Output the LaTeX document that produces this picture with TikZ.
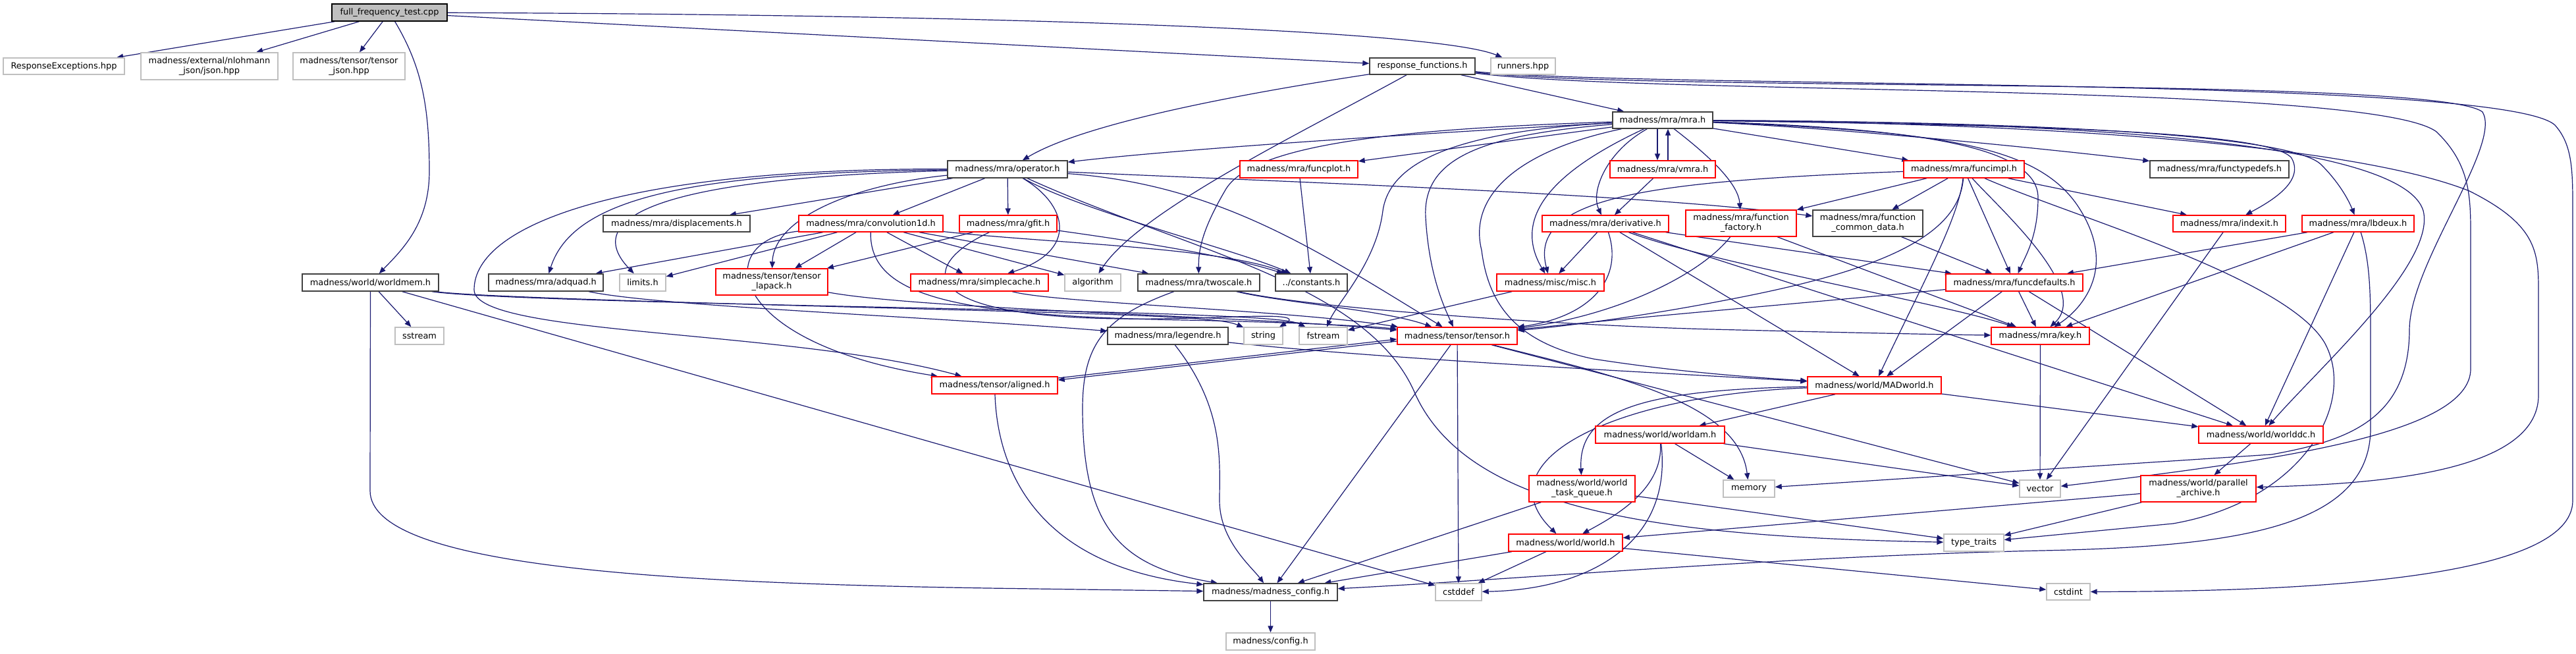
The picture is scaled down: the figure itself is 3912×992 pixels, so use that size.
\documentclass[tikz,border=0pt]{standalone}
\usepackage{fontspec}
\setmainfont{DejaVu Sans}
\usetikzlibrary{arrows.meta}
\pgfdeclarelayer{bg}
\pgfsetlayers{bg,main}
\definecolor{edgecol}{HTML}{191970}
\definecolor{greyA}{HTML}{404040}
\definecolor{greyB}{HTML}{BFBFBF}
\newcommand\nd[7]{\node[#1, minimum width={(#5-#4)*0.5pt}, minimum height={(#7-#6)*0.5pt}] (#2) at ({(#4+#5)/2},{(#6+#7)/2}) {#3};}
\begin{document}
\begin{tikzpicture}[x=0.5pt,y=-0.5pt,
 box/.style={draw, fill=white, inner sep=0pt, align=center, line width=0.7pt, text=black, font=\fontsize{6.45}{7.4}\selectfont},
 blk/.style={box, draw=greyA},
 redb/.style={box, draw=red},
 gry/.style={box, draw=greyB},
 mainb/.style={box, draw=black, fill=greyB},
 edg/.style={draw=edgecol, line width=0.6pt, -{Triangle[length=5pt,width=4pt]}}]
\useasboundingbox (0,0) rectangle (3912,992);
\nd{mainb}{main}{full\_frequency\_test.cpp}{504}{679}{6}{32}
\nd{gry}{respexc}{ResponseExceptions.hpp}{5}{189}{88}{113}
\nd{gry}{nlohmann}{madness/external/nlohmann\\\_json/json.hpp}{214}{422}{80}{121}
\nd{gry}{tjson}{madness/tensor/tensor\\\_json.hpp}{445}{615}{80}{121}
\nd{blk}{respfunc}{response\_functions.h}{2080}{2240}{88}{113}
\nd{gry}{runners}{runners.hpp}{2264}{2362}{88}{113}
\nd{blk}{mra}{madness/mra/mra.h}{2449}{2601}{170}{195}
\nd{blk}{operator}{madness/mra/operator.h}{1439}{1621}{244}{270}
\nd{redb}{funcplot}{madness/mra/funcplot.h}{1883}{2062}{244}{270}
\nd{redb}{vmra}{madness/mra/vmra.h}{2445}{2605}{244}{270}
\nd{redb}{funcimpl}{madness/mra/funcimpl.h}{2891}{3074}{244}{270}
\nd{blk}{functypedefs}{madness/mra/functypedefs.h}{3265}{3476}{244}{270}
\nd{blk}{worldmem}{madness/world/worldmem.h}{459}{666}{416}{442}
\nd{blk}{displacements}{madness/mra/displacements.h}{916}{1139}{327}{352}
\nd{redb}{conv1d}{madness/mra/convolution1d.h}{1213}{1432}{327}{352}
\nd{redb}{gfit}{madness/mra/gfit.h}{1457}{1605}{327}{352}
\nd{redb}{derivative}{madness/mra/derivative.h}{2342}{2534}{327}{352}
\nd{redb}{funcfactory}{madness/mra/function\\\_factory.h}{2560}{2728}{319}{359}
\nd{blk}{fcd}{madness/mra/function\\\_common\_data.h}{2753}{2920}{319}{359}
\nd{redb}{indexit}{madness/mra/indexit.h}{3300}{3471}{327}{352}
\nd{redb}{lbdeux}{madness/mra/lbdeux.h}{3496}{3666}{327}{352}
\nd{blk}{adquad}{madness/mra/adquad.h}{742}{916}{416}{442}
\nd{gry}{limits}{limits.h}{941}{1011}{416}{442}
\nd{redb}{tlapack}{madness/tensor/tensor\\\_lapack.h}{1087}{1257}{408}{448}
\nd{redb}{simplecache}{madness/mra/simplecache.h}{1383}{1592}{416}{442}
\nd{gry}{algorithm}{algorithm}{1617}{1702}{416}{442}
\nd{blk}{twoscale}{madness/mra/twoscale.h}{1728}{1913}{416}{442}
\nd{blk}{constants}{../constants.h}{1937}{2046}{416}{442}
\nd{redb}{misc}{madness/misc/misc.h}{2273}{2436}{416}{442}
\nd{redb}{funcdefaults}{madness/mra/funcdefaults.h}{2955}{3163}{416}{442}
\nd{gry}{sstream}{sstream}{600}{674}{497}{523}
\nd{blk}{legendre}{madness/mra/legendre.h}{1682}{1865}{497}{523}
\nd{gry}{string}{string}{1889}{1948}{497}{523}
\nd{gry}{fstream}{fstream}{1973}{2046}{497}{523}
\nd{redb}{tensor}{madness/tensor/tensor.h}{2122}{2304}{497}{523}
\nd{redb}{key}{madness/mra/key.h}{3024}{3173}{497}{523}
\nd{redb}{aligned}{madness/tensor/aligned.h}{1415}{1606}{572}{598}
\nd{redb}{madworld}{madness/world/MADworld.h}{2745}{2948}{572}{598}
\nd{redb}{worldam}{madness/world/worldam.h}{2423}{2619}{647}{673}
\nd{redb}{worlddc}{madness/world/worlddc.h}{3339}{3528}{647}{673}
\nd{gry}{memory}{memory}{2617}{2695}{729}{755}
\nd{gry}{vector}{vector}{3067}{3129}{729}{755}
\nd{redb}{taskq}{madness/world/world\\\_task\_queue.h}{2322}{2483}{722}{762}
\nd{redb}{parchive}{madness/world/parallel\\\_archive.h}{3251}{3426}{722}{762}
\nd{redb}{world}{madness/world/world.h}{2291}{2464}{811}{837}
\nd{gry}{typetraits}{type\_traits}{2952}{3043}{811}{837}
\nd{blk}{config}{madness/madness\_config.h}{1828}{2031}{886}{912}
\nd{gry}{cstddef}{cstddef}{2180}{2250}{886}{912}
\nd{gry}{cstdint}{cstdint}{3108}{3174}{886}{911}
\nd{gry}{mconfig}{madness/config.h}{1862}{1997}{961}{987}
\begin{pgfonlayer}{bg}
% main
\draw[edg] (main) -- (respexc);
\draw[edg] (main) -- (nlohmann);
\draw[edg] (main) -- (tjson);
\draw[edg] (main) .. controls (640,100) and (652,160) .. (652,260) .. controls (652,340) and (610,380) .. (worldmem);
\draw[edg] (main) -- (respfunc);
\draw[edg] (main) .. controls (1500,22) and (2180,45) .. (runners);
% respfunc
\draw[edg] (respfunc) .. controls (1900,140) and (1650,185) .. (operator);
\draw[edg] (respfunc) .. controls (1980,200) and (1730,320) .. (algorithm);
\draw[edg] (respfunc) -- (mra);
\draw[edg] (respfunc) .. controls (2500,140) and (3700,115) .. (3770,170) .. controls (3800,220) and (3660,400) .. (3659,500) .. controls (3659,640) and (3560,670) .. (3450,690) -- (memory);
\draw[edg] (respfunc) .. controls (2500,145) and (3600,125) .. (3700,200) .. controls (3752,250) and (3752,300) .. (3752,360) -- (3752,560) .. controls (3752,660) and (3450,700) .. (vector);
\draw[edg] (respfunc) .. controls (2500,135) and (3800,115) .. (3880,190) .. controls (3907,220) and (3907,260) .. (3907,320) -- (3907,760) .. controls (3907,880) and (3500,898) .. (cstdint);
% mra
\draw[edg] (mra) .. controls (2200,200) and (1800,225) .. (operator);
\draw[edg] (mra) -- (funcplot);
\draw[edg] (mra) .. controls (2150,195) and (1900,215) .. (1860,290) .. controls (1825,350) and (1820,380) .. (twoscale);
\draw[edg] ([xshift=-4pt]mra.south) -- ([xshift=-4pt]vmra.north);
\draw[edg] ([xshift=4pt]vmra.north) -- ([xshift=4pt]mra.south);
\draw[edg] (mra) .. controls (2440,230) and (2415,290) .. (derivative);
\draw[edg] (mra) .. controls (2380,250) and (2290,320) .. (misc);
\draw[edg] (mra) .. controls (2600,240) and (2640,280) .. (funcfactory);
\draw[edg] (mra) -- (funcimpl);
\draw[edg] (mra) .. controls (2800,195) and (3100,225) .. (functypedefs);
\draw[edg] (mra) .. controls (3100,190) and (3450,200) .. (3480,240) .. controls (3500,275) and (3450,305) .. (indexit);
\draw[edg] (mra) .. controls (3100,185) and (3480,205) .. (3525,250) .. controls (3550,275) and (3565,300) .. (lbdeux);
\draw[edg] (mra) .. controls (3200,185) and (3650,220) .. (3680,320) .. controls (3700,400) and (3520,560) .. (worlddc);
\draw[edg] (mra) .. controls (3200,188) and (3600,230) .. (3750,290) .. controls (3850,340) and (3855,380) .. (3855,440) -- (3855,600) .. controls (3855,720) and (3600,735) .. (parchive);
\draw[edg] (mra) .. controls (2900,195) and (3095,220) .. (3095,300) .. controls (3095,360) and (3075,390) .. (funcdefaults);
\draw[edg] (mra) .. controls (2950,200) and (3100,220) .. (3160,320) .. controls (3215,410) and (3160,470) .. (key);
\draw[edg] (mra) .. controls (2250,205) and (2160,240) .. (2165,330) .. controls (2170,420) and (2195,470) .. (tensor);
\draw[edg] (mra) .. controls (2300,230) and (2230,300) .. (2250,380) .. controls (2260,460) and (2300,520) .. (2420,545) .. controls (2550,565) and (2650,572) .. (madworld);
\draw[edg] (mra) .. controls (2200,200) and (2110,250) .. (2100,320) .. controls (2090,400) and (2030,460) .. (fstream);
% operator
\draw[edg] (operator) -- (displacements);
\draw[edg] (operator) -- (conv1d);
\draw[edg] (operator) -- (gfit);
\draw[edg] (operator) .. controls (1300,280) and (1175,330) .. (tlapack);
\draw[edg] (operator) .. controls (1620,310) and (1640,380) .. (simplecache);
\draw[edg] (operator) .. controls (1640,320) and (1880,380) .. (constants);
\draw[edg] (operator) .. controls (1050,262) and (870,300) .. (adquad);
\draw[edg] (operator) .. controls (1000,270) and (880,330) .. (limits);
\draw[edg] (operator) .. controls (950,255) and (720,340) .. (720,440) .. controls (720,510) and (1200,500) .. (aligned);
\draw[edg] (operator) .. controls (1850,280) and (2000,380) .. (tensor);
\draw[edg] (operator) .. controls (2000,278) and (2500,295) .. (fcd);
\draw[edg] (operator) .. controls (1800,380) and (2080,430) .. (2150,600) .. controls (2230,770) and (2500,815) .. (typetraits);
% conv1d
\draw[edg] (conv1d) -- (adquad);
\draw[edg] (conv1d) -- (limits);
\draw[edg] (conv1d) -- (tlapack);
\draw[edg] (conv1d) -- (simplecache);
\draw[edg] (conv1d) -- (algorithm);
\draw[edg] (conv1d) -- (twoscale);
\draw[edg] (conv1d) .. controls (1600,370) and (1850,375) .. (constants);
\draw[edg] (conv1d) .. controls (1080,365) and (1100,520) .. (aligned);
\draw[edg] (conv1d) .. controls (1320,450) and (1450,480) .. (1800,486) .. controls (1950,489) and (2080,495) .. (tensor);
% gfit and others
\draw[edg] (gfit) -- (tlapack);
\draw[edg] (gfit) .. controls (1750,370) and (1870,390) .. (constants);
\draw[edg] (gfit) .. controls (1400,400) and (1380,480) .. (1700,484) .. controls (1850,486) and (1990,470) .. (string);
\draw[edg] (simplecache) .. controls (1600,460) and (1950,470) .. (tensor);
\draw[edg] (tlapack) .. controls (1400,470) and (1900,480) .. (tensor);
\draw[edg] (twoscale) .. controls (1950,460) and (2100,470) .. (tensor);
\draw[edg] (twoscale) .. controls (1680,480) and (1644,520) .. (1644,620) .. controls (1644,800) and (1700,860) .. (config);
\draw[edg] (twoscale) .. controls (2000,470) and (2400,495) .. (2600,500) .. controls (2800,505) and (2950,508) .. (key);
\draw[edg] (funcplot) -- (constants);
\draw[edg] (misc) -- (fstream);
% derivative
\draw[edg] (derivative) -- (misc);
\draw[edg] (derivative) .. controls (2465,420) and (2420,480) .. (tensor);
\draw[edg] (funcfactory) .. controls (2580,420) and (2450,480) .. (tensor);
\draw[edg] (derivative) .. controls (2600,400) and (2950,460) .. (key);
\draw[edg] (derivative) -- (madworld);
\draw[edg] (derivative) -- (funcdefaults);
\draw[edg] (derivative) -- (worlddc);
\draw[edg] (vmra) -- (derivative);
\draw[edg] (funcfactory) -- (key);
\draw[edg] (fcd) -- (funcdefaults);
% funcimpl
\draw[edg] (funcimpl) .. controls (2500,275) and (2320,300) .. (misc);
\draw[edg] (funcimpl) -- (funcfactory);
\draw[edg] (funcimpl) -- (fcd);
\draw[edg] (funcimpl) .. controls (2975,360) and (2850,410) .. (2650,450) .. controls (2500,480) and (2380,495) .. (tensor);
\draw[edg] (funcimpl) .. controls (2975,330) and (2920,430) .. (madworld);
\draw[edg] (funcimpl) -- (funcdefaults);
\draw[edg] (funcimpl) .. controls (3040,320) and (3175,440) .. (key);
\draw[edg] (funcimpl) .. controls (3150,330) and (3470,420) .. (3530,520) .. controls (3580,610) and (3500,760) .. (3300,795) -- (typetraits);
\draw[edg] (funcimpl) -- (indexit);
% funcdefaults
\draw[edg] (funcdefaults) .. controls (2800,455) and (2500,480) .. (tensor);
\draw[edg] (funcdefaults) -- (madworld);
\draw[edg] (funcdefaults) -- (key);
\draw[edg] (funcdefaults) -- (worlddc);
% lbdeux
\draw[edg] (lbdeux) -- (funcdefaults);
\draw[edg] (lbdeux) -- (key);
\draw[edg] (lbdeux) -- (worlddc);
\draw[edg] (lbdeux) .. controls (3600,400) and (3600,450) .. (3600,520) -- (3600,650) .. controls (3600,800) and (3400,830) .. (3100,836) .. controls (2700,845) and (2300,880) .. (config);
\draw[edg] (indexit) -- (vector);
\draw[edg] (key) -- (vector);
% aligned, legendre, adquad, worldmem
\draw[edg] ([shift={(0,8)}]tensor.west) -- ([shift={(0,-8)}]aligned.east);
\draw[edg] ([shift={(0,-11)}]aligned.east) -- ([shift={(0,5)}]tensor.west);
\draw[edg] (aligned) .. controls (1515,720) and (1580,860) .. (config);
\draw[edg] (legendre) .. controls (2100,545) and (2500,565) .. (madworld);
\draw[edg] (legendre) .. controls (1860,620) and (1852,700) .. (1852,760) .. controls (1852,820) and (1900,860) .. (config);
\draw[edg] (adquad) .. controls (1000,465) and (1400,480) .. (legendre);
\draw[edg] (worldmem) .. controls (750,455) and (1500,470) .. (1700,478) .. controls (1800,482) and (1860,485) .. (string);
\draw[edg] (worldmem) .. controls (760,458) and (1500,468) .. (1750,476) .. controls (1900,481) and (1960,485) .. (fstream);
\draw[edg] (worldmem) -- (sstream);
\draw[edg] (worldmem) -- (562,745) .. controls (562,860) and (1000,885) .. (1500,893) -- (config);
\draw[edg] (worldmem) -- (cstddef);
% tensor
\draw[edg] (tensor) -- (config);
\draw[edg] (tensor) -- (cstddef);
\draw[edg] (tensor) .. controls (2450,570) and (2640,610) .. (memory);
\draw[edg] (tensor) -- (vector);
% world layer
\draw[edg] (madworld) -- (worlddc);
\draw[edg] (madworld) -- (worldam);
\draw[edg] (madworld) .. controls (2500,592) and (2396,620) .. (taskq);
\draw[edg] (madworld) .. controls (2450,600) and (2250,700) .. (world);
\draw[edg] (worldam) -- (memory);
\draw[edg] (worldam) -- (vector);
\draw[edg] (worldam) .. controls (2525,740) and (2460,780) .. (world);
\draw[edg] (worldam) .. controls (2540,820) and (2420,895) .. (cstddef);
\draw[edg] (taskq) -- (config);
\draw[edg] (taskq) -- (typetraits);
\draw[edg] (world) -- (config);
\draw[edg] (world) -- (cstddef);
\draw[edg] (world) -- (cstdint);
\draw[edg] (parchive) -- (typetraits);
\draw[edg] (parchive) -- (world);
\draw[edg] (worlddc) -- (parchive);
\draw[edg] (config) -- (mconfig);
\end{pgfonlayer}
\end{tikzpicture}
\end{document}
